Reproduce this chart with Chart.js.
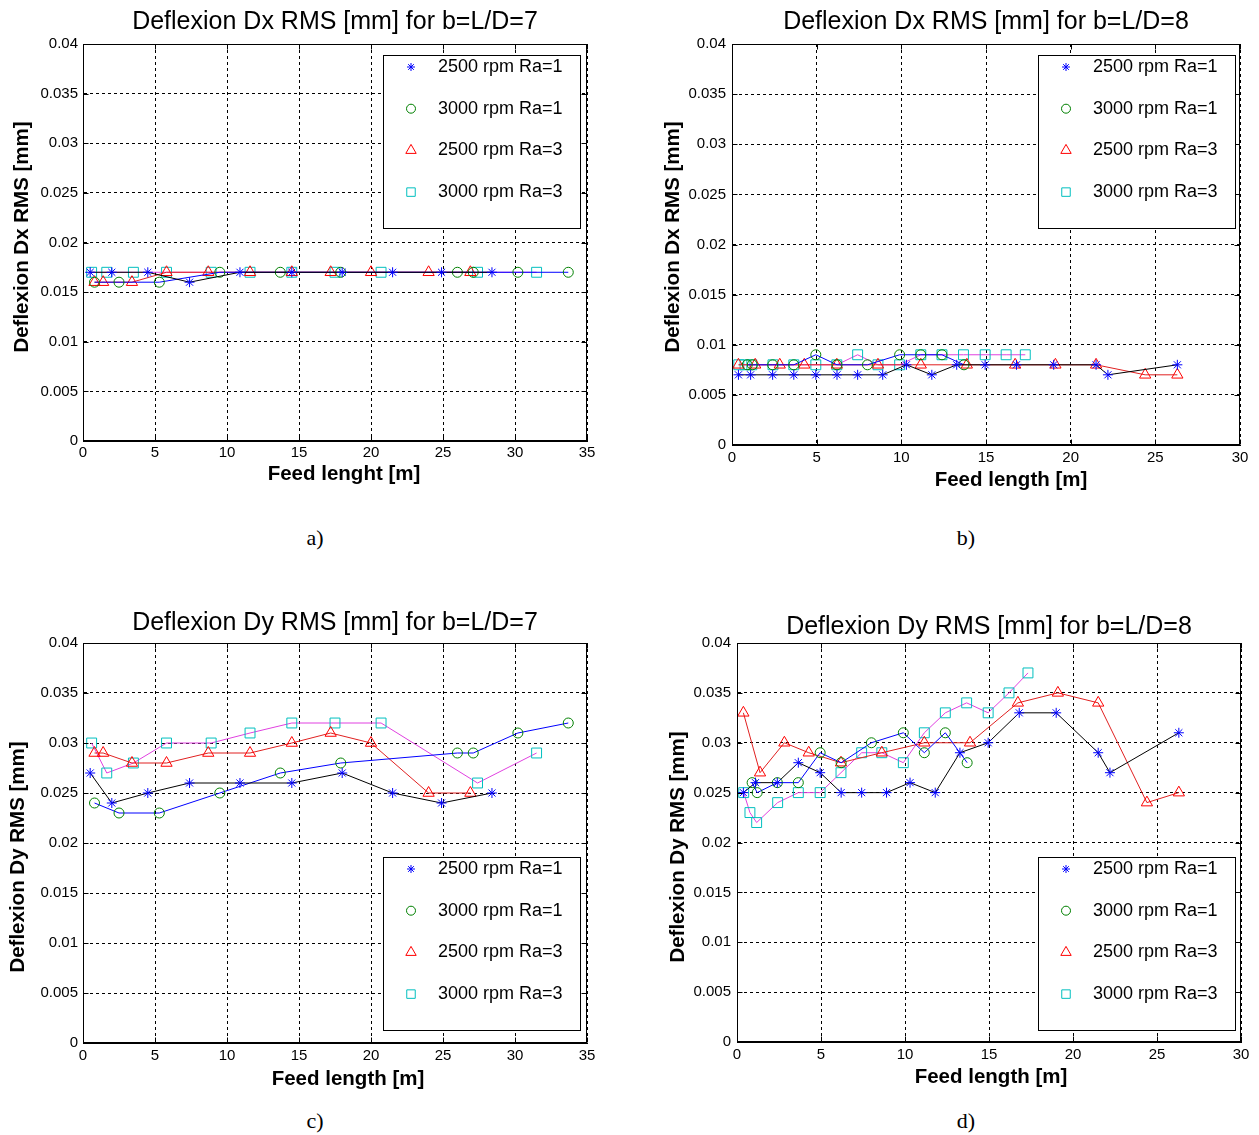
<!DOCTYPE html>
<html>
<head>
<meta charset="utf-8">
<script src="https://cdn.jsdelivr.net/npm/chart.js@4.4.1/dist/chart.umd.min.js"></script>
<style>
  body { margin: 0; background: #fff; width: 1259px; height: 1135px; position: relative; overflow: hidden; }
  canvas { position: absolute; }
  .cap { position: absolute; font-family: 'Liberation Serif', 'Times New Roman', serif; font-size: 22px; color: #000; transform: translate(-50%, -50%); }
</style>
</head>
<body>
<canvas id="pa" width="620" height="500" style="left:0;top:0"></canvas>
<canvas id="pb" width="609" height="505" style="left:650px;top:0"></canvas>
<canvas id="pc" width="620" height="500" style="left:0;top:600px"></canvas>
<canvas id="pd" width="609" height="500" style="left:650px;top:600px"></canvas>
<div class="cap" style="left:315px;top:538px">a)</div>
<div class="cap" style="left:966px;top:538px">b)</div>
<div class="cap" style="left:315px;top:1121px">c)</div>
<div class="cap" style="left:966px;top:1121px">d)</div>
<script>
// series labels
const seriesNames = ['2500 rpm Ra=1', '3000 rpm Ra=1', '2500 rpm Ra=3', '3000 rpm Ra=3'];

// feed length [m], b = L/D = 7
const x7_2500_ra1 = [0.5, 2.0, 4.5, 7.4, 10.9, 14.5, 18.0, 21.5, 24.9, 28.4];
const x7_3000_ra1 = [0.8, 2.5, 5.3, 9.5, 13.7, 17.9, 26.0, 27.1, 30.2, 33.7];
const x7_2500_ra3 = [0.8, 1.4, 3.4, 5.8, 8.7, 11.6, 14.5, 17.2, 20.0, 24.0, 26.9];
const x7_3000_ra3 = [0.6, 1.65, 3.5, 5.8, 8.9, 11.6, 14.5, 17.5, 20.7, 27.4, 31.5];

// feed length [m], b = L/D = 8
const x8_2500_ra1 = [0.38, 1.1, 2.4, 3.65, 4.95, 6.2, 7.42, 8.9, 10.3, 11.8, 13.27, 14.95, 16.8, 19.0, 21.5, 22.2, 26.3];
const x8_3000_ra1 = [0.9, 1.2, 2.4, 3.65, 4.95, 6.2, 8.0, 9.9, 11.15, 12.4, 13.7];
const x8_2500_ra3 = [0.38, 1.37, 2.82, 4.27, 6.19, 8.62, 11.15, 13.87, 16.72, 19.1, 21.5, 24.4, 26.3];
const x8_3000_ra3 = [0.4, 0.77, 1.17, 2.42, 3.65, 4.95, 6.19, 7.42, 8.62, 9.9, 11.15, 12.4, 13.67, 14.95, 16.19, 17.32];

// a) Dx RMS [mm], L/D = 7
const dx7_2500_ra1 = [0.017, 0.017, 0.017, 0.016, 0.017, 0.017, 0.017, 0.017, 0.017, 0.017];
const dx7_3000_ra1 = [0.016, 0.016, 0.016, 0.017, 0.017, 0.017, 0.017, 0.017, 0.017, 0.017];
const dx7_2500_ra3 = [0.016, 0.016, 0.016, 0.017, 0.017, 0.017, 0.017, 0.017, 0.017, 0.017, 0.017];
const dx7_3000_ra3 = [0.017, 0.017, 0.017, 0.017, 0.017, 0.017, 0.017, 0.017, 0.017, 0.017, 0.017];

// b) Dx RMS [mm], L/D = 8
const dx8_2500_ra1 = [0.007, 0.007, 0.007, 0.007, 0.007, 0.007, 0.007, 0.007, 0.008, 0.007, 0.008, 0.008, 0.008, 0.008, 0.008, 0.007, 0.008];
const dx8_3000_ra1 = [0.008, 0.008, 0.008, 0.008, 0.009, 0.008, 0.008, 0.009, 0.009, 0.009, 0.008];
const dx8_2500_ra3 = [0.008, 0.008, 0.008, 0.008, 0.008, 0.008, 0.008, 0.008, 0.008, 0.008, 0.008, 0.007, 0.007];
const dx8_3000_ra3 = [0.008, 0.008, 0.008, 0.008, 0.008, 0.008, 0.008, 0.009, 0.008, 0.008, 0.009, 0.009, 0.009, 0.009, 0.009, 0.009];

// c) Dy RMS [mm], L/D = 7
const dy7_2500_ra1 = [0.027, 0.024, 0.025, 0.026, 0.026, 0.026, 0.027, 0.025, 0.024, 0.025];
const dy7_3000_ra1 = [0.024, 0.023, 0.023, 0.025, 0.027, 0.028, 0.029, 0.029, 0.031, 0.032];
const dy7_2500_ra3 = [0.029, 0.029, 0.028, 0.028, 0.029, 0.029, 0.030, 0.031, 0.030, 0.025, 0.025];
const dy7_3000_ra3 = [0.030, 0.027, 0.028, 0.030, 0.030, 0.031, 0.032, 0.032, 0.032, 0.026, 0.029];

// d) Dy RMS [mm], L/D = 8
const dy8_2500_ra1 = [0.025, 0.026, 0.026, 0.028, 0.027, 0.025, 0.025, 0.025, 0.026, 0.025, 0.029, 0.030, 0.033, 0.033, 0.029, 0.027, 0.031];
const dy8_3000_ra1 = [0.026, 0.025, 0.026, 0.026, 0.029, 0.028, 0.030, 0.031, 0.029, 0.031, 0.028];
const dy8_2500_ra3 = [0.033, 0.027, 0.030, 0.029, 0.028, 0.029, 0.030, 0.030, 0.034, 0.035, 0.034, 0.024, 0.025];
const dy8_3000_ra3 = [0.025, 0.023, 0.022, 0.024, 0.025, 0.025, 0.027, 0.029, 0.029, 0.028, 0.031, 0.033, 0.034, 0.033, 0.035, 0.037];

const yTicks = [0, 0.005, 0.01, 0.015, 0.02, 0.025, 0.03, 0.035, 0.04];

const FONT = "'Liberation Sans', Arial, sans-serif";
const styles = [
  { marker: '#0000ff', line: '#000000', pointStyle: 'star', radius: 5, legendRadius: 4 },
  { marker: '#008000', line: '#0000ff', pointStyle: 'circle', radius: 5, legendRadius: 4.5 },
  { marker: '#ff0000', line: '#e02020', pointStyle: 'triangle', radius: 6.5, legendRadius: 6 },
  { marker: '#00bfbf', line: '#e040e0', pointStyle: 'rect', radius: 7, legendRadius: 6 }
];

const pairs = (xs, ys) => xs.map((x, i) => ({ x: x, y: ys[i] }));

// axis box with inward ticks, axis captions, legend
const matlabAxes = {
  id: 'matlabAxes',
  afterDatasetsDraw(chart, args, opts) {
    const { ctx, chartArea: a, scales } = chart;
    const L = Math.round(a.left) + 0.5, T = Math.round(a.top) + 0.5;
    const R = Math.round(a.right) - 0.5, B = Math.round(a.bottom) - 0.5;
    ctx.save();
    ctx.setLineDash([]);
    ctx.strokeStyle = '#000';
    ctx.lineWidth = 1;
    ctx.strokeRect(L, T, R - L, B - T);
    ctx.beginPath();
    scales.x.ticks.forEach(t => {
      const px = Math.round(scales.x.getPixelForValue(t.value)) + 0.5;
      ctx.moveTo(px, B); ctx.lineTo(px, B - 5);
      ctx.moveTo(px, T); ctx.lineTo(px, T + 5);
    });
    scales.y.ticks.forEach(t => {
      const py = Math.round(scales.y.getPixelForValue(t.value)) + 0.5;
      ctx.moveTo(L, py); ctx.lineTo(L + 5, py);
      ctx.moveTo(R, py); ctx.lineTo(R - 5, py);
    });
    ctx.stroke();

    // axis captions
    ctx.fillStyle = '#000';
    ctx.font = 'bold 20.5px ' + FONT;
    ctx.textAlign = 'center';
    ctx.textBaseline = 'middle';
    ctx.fillText(opts.xTitle, opts.xTitleX, opts.xTitleY);
    ctx.save();
    ctx.translate(opts.yTitleX, opts.yTitleY);
    ctx.rotate(-Math.PI / 2);
    ctx.fillText(opts.yTitle, 0, 0);
    ctx.restore();

    // legend
    const lg = opts.legend;
    const w = 197, h = 173;
    const x0 = Math.round(a.right - lg.right - w);
    const y0 = Math.round(lg.corner === 'top' ? a.top + lg.gap : a.bottom - lg.gap - h);
    ctx.fillStyle = '#fff';
    ctx.fillRect(x0, y0, w, h);
    ctx.strokeRect(x0 + 0.5, y0 + 0.5, w, h);
    chart.data.datasets.forEach((ds, i) => {
      const cy = y0 + 12 + i * 41.7;
      ctx.strokeStyle = ds.pointBorderColor;
      ctx.fillStyle = 'rgba(0,0,0,0)';
      ctx.lineWidth = 1;
      Chart.helpers.drawPoint(ctx, { pointStyle: ds.pointStyle, radius: ds.legendRadius, borderWidth: 1 }, x0 + 28, cy);
      ctx.fillStyle = '#000';
      ctx.font = '18px ' + FONT;
      ctx.textAlign = 'left';
      ctx.fillText(ds.label, x0 + 55, cy);
    });
    ctx.restore();
  }
};

function makePanel(id, p) {
  const datasets = p.series.map((s, i) => ({
    label: seriesNames[i],
    data: pairs(s[0], s[1]),
    borderColor: styles[i].line,
    borderWidth: 1,
    pointStyle: styles[i].pointStyle,
    pointRadius: styles[i].radius,
    pointBorderColor: styles[i].marker,
    pointBackgroundColor: 'rgba(0,0,0,0)',
    pointBorderWidth: 1,
    legendRadius: styles[i].legendRadius,
    tension: 0,
    fill: false
  }));
  return new Chart(document.getElementById(id), {
    type: 'line',
    data: { datasets: datasets },
    options: {
      responsive: false,
      animation: false,
      layout: { padding: { top: 0, left: 0, bottom: 0, right: p.padRight } },
      plugins: {
        legend: { display: false },
        tooltip: { enabled: false },
        title: {
          display: true, text: p.title, fullSize: false, color: '#000',
          font: { family: FONT, size: 25, weight: 'normal', lineHeight: 1.2 },
          padding: { top: p.tTop, bottom: p.tBottom }
        },
        matlabAxes: {
          xTitle: p.xTitle, xTitleX: p.xTitleX, xTitleY: p.xTitleY,
          yTitle: p.yTitle, yTitleX: p.yTitleX, yTitleY: p.yTitleY,
          legend: p.legend
        }
      },
      scales: {
        x: {
          type: 'linear', min: 0, max: p.xMax,
          ticks: { stepSize: 5, color: '#000', font: { family: FONT, size: 15 }, padding: p.xTickPad, maxRotation: 0, autoSkip: false },
          grid: { color: '#000', lineWidth: 1, drawTicks: false },
          border: { display: true, color: '#000', dash: [3, 3] },
          afterFit: s => { s.height = p.xH; }
        },
        y: {
          type: 'linear', min: 0, max: 0.04,
          afterBuildTicks: s => { s.ticks = yTicks.map(v => ({ value: v })); },
          ticks: { color: '#000', font: { family: FONT, size: 15 }, padding: p.yTickPad, callback: v => String(+v.toFixed(3)) },
          grid: { color: '#000', lineWidth: 1, drawTicks: false },
          border: { display: true, color: '#000', dash: [3, 3] },
          afterFit: s => { s.width = p.yW; }
        }
      }
    },
    plugins: [matlabAxes]
  });
}

makePanel('pa', {
  title: 'Deflexion Dx RMS [mm] for b=L/D=7', xTitle: 'Feed lenght [m]', yTitle: 'Deflexion Dx RMS [mm]',
  xMax: 35, padRight: 33, tTop: 7, tBottom: 7, xH: 59, yW: 83, xTickPad: 3, yTickPad: 5,
  xTitleX: 344, xTitleY: 474, yTitleX: 22, yTitleY: 237,
  legend: { corner: 'top', right: 7, gap: 11 },
  series: [[x7_2500_ra1, dx7_2500_ra1], [x7_3000_ra1, dx7_3000_ra1], [x7_2500_ra3, dx7_2500_ra3], [x7_3000_ra3, dx7_3000_ra3]]
});

makePanel('pb', {
  title: 'Deflexion Dx RMS [mm] for b=L/D=8', xTitle: 'Feed length [m]', yTitle: 'Deflexion Dx RMS [mm]',
  xMax: 30, padRight: 19, tTop: 7, tBottom: 7, xH: 60, yW: 82, xTickPad: 4, yTickPad: 6,
  xTitleX: 361, xTitleY: 480, yTitleX: 23, yTitleY: 237,
  legend: { corner: 'top', right: 5, gap: 11 },
  series: [[x8_2500_ra1, dx8_2500_ra1], [x8_3000_ra1, dx8_3000_ra1], [x8_2500_ra3, dx8_2500_ra3], [x8_3000_ra3, dx8_3000_ra3]]
});

makePanel('pc', {
  title: 'Deflexion Dy RMS [mm] for b=L/D=7', xTitle: 'Feed length [m]', yTitle: 'Deflexion Dy RMS [mm]',
  xMax: 35, padRight: 33, tTop: 8, tBottom: 5, xH: 57, yW: 83, xTickPad: 4, yTickPad: 5,
  xTitleX: 348, xTitleY: 479, yTitleX: 18, yTitleY: 257,
  legend: { corner: 'bottom', right: 7, gap: 13 },
  series: [[x7_2500_ra1, dy7_2500_ra1], [x7_3000_ra1, dy7_3000_ra1], [x7_2500_ra3, dy7_2500_ra3], [x7_3000_ra3, dy7_3000_ra3]]
});

makePanel('pd', {
  title: 'Deflexion Dy RMS [mm] for b=L/D=8', xTitle: 'Feed length [m]', yTitle: 'Deflexion Dy RMS [mm]',
  xMax: 30, padRight: 18, tTop: 12, tBottom: 1, xH: 58, yW: 87, xTickPad: 4, yTickPad: 6,
  xTitleX: 341, xTitleY: 477, yTitleX: 28, yTitleY: 247,
  legend: { corner: 'bottom', right: 6, gap: 12 },
  series: [[x8_2500_ra1, dy8_2500_ra1], [x8_3000_ra1, dy8_3000_ra1], [x8_2500_ra3, dy8_2500_ra3], [x8_3000_ra3, dy8_3000_ra3]]
});
</script>
</body>
</html>
